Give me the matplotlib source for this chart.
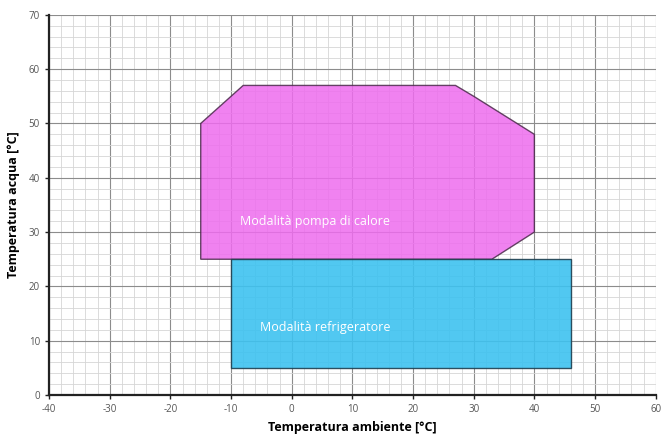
import matplotlib.pyplot as plt
from matplotlib.patches import Polygon
from matplotlib.ticker import MultipleLocator

# operating envelopes (ambient temp, water temp)
pompa_x = [-15, -15, -8, 27, 30, 40, 40, 33]
pompa_y = [25, 50, 57, 57, 55, 48, 30, 25]
frigo_x = [-10, -10, 46, 46]
frigo_y = [5, 25, 25, 5]

plt.rcParams["font.family"] = ["Open Sans", "DejaVu Sans"]
plt.rcParams["axes.unicode_minus"] = False

fig = plt.figure(figsize=(6.63, 4.36), dpi=100)
ax = fig.add_axes([0.074, 0.094, 0.915, 0.872])

ax.set_xlim(-40, 60)
ax.set_ylim(0, 70)
ax.xaxis.set_major_locator(MultipleLocator(10))
ax.yaxis.set_major_locator(MultipleLocator(10))
ax.xaxis.set_minor_locator(MultipleLocator(2))
ax.yaxis.set_minor_locator(MultipleLocator(2))
ax.grid(which="major", color="#8c8c8c", linewidth=0.8, zorder=0)
ax.grid(which="minor", color="#d6d6d6", linewidth=0.6, zorder=0)
ax.set_axisbelow(True)

ax.add_patch(Polygon(list(zip(pompa_x, pompa_y)), closed=True,
                     facecolor="#ee6cee", edgecolor="#4a2a4a", alpha=0.85, linewidth=1.0, zorder=2))
ax.add_patch(Polygon(list(zip(frigo_x, frigo_y)), closed=True,
                     facecolor="#3ec2f0", edgecolor="#1f3f4f", alpha=0.9, linewidth=1.0, zorder=3))

ax.text(-8.5, 32, "Modalità pompa di calore", color="white", fontsize=9, va="center", zorder=4)
ax.text(-5.3, 12.5, "Modalità refrigeratore", color="white", fontsize=9, va="center", zorder=4)

for side in ["top", "right"]:
    ax.spines[side].set_visible(False)
for side in ["left", "bottom"]:
    ax.spines[side].set_linewidth(1.6)
    ax.spines[side].set_color("#222222")

ax.tick_params(which="major", labelsize=7, colors="#222222", labelcolor="#555555", length=3, width=1)
ax.tick_params(which="minor", length=0)

ax.set_xlabel("Temperatura ambiente [°C]", fontsize=9, fontweight="bold", labelpad=4)
ax.set_ylabel("Temperatura acqua [°C]", fontsize=9, fontweight="bold", labelpad=6)

fig.savefig("out.png", dpi=100)
